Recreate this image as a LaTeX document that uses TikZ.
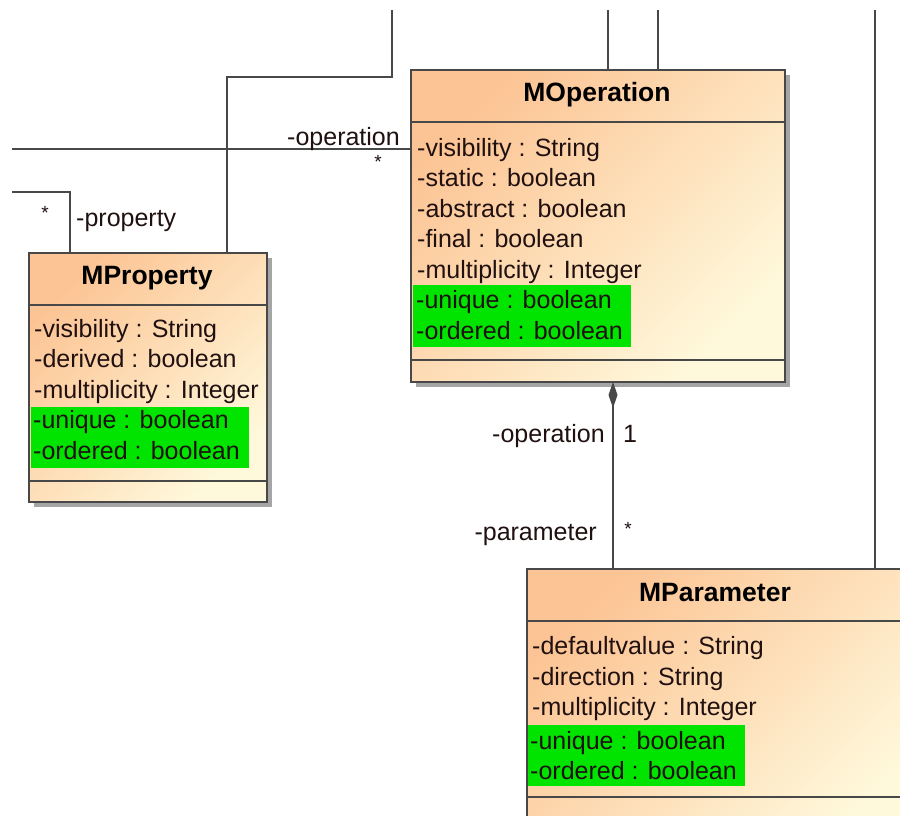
\documentclass[tikz,border=0pt]{standalone}
\usepackage{fontspec}
\setmainfont{Liberation Sans}
\usetikzlibrary{arrows.meta,calc}
\definecolor{lineC}{RGB}{72,72,72}
\definecolor{orangeC}{RGB}{252,196,148}
\definecolor{yellowC}{RGB}{255,249,220}
\definecolor{greenC}{RGB}{0,228,0}
\definecolor{shadowC}{RGB}{165,165,165}
\definecolor{txtC}{RGB}{32,16,16}
\begin{document}
\begin{tikzpicture}[x=1pt,y=-1pt,
  conn/.style={draw=lineC, line width=1.5pt},
  classbox/.style={draw=lineC, line width=1.5pt, rectangle, inner sep=0pt, outer sep=0pt,
    anchor=north west, top color=orangeC, bottom color=yellowC, shading angle=45},
  attr/.style={anchor=base west, inner sep=0pt, text=txtC, font=\fontsize{25}{30}\selectfont},
  lbl/.style={inner sep=0pt, text=txtC, font=\fontsize{25}{30}\selectfont},
  star/.style={inner sep=0pt, text=txtC, font=\fontsize{19}{22}\selectfont},
  ttl/.style={anchor=base, inner sep=0pt, text=black, font=\fontsize{26.5}{30}\selectfont\bfseries},
  sep/.style={draw=lineC, line width=1.5pt},
  hl/.style={fill=greenC},
  shadowbox/.style={fill=shadowC}]
\useasboundingbox (0,0) rectangle (900,816);
\clip (0,0) rectangle (900,816);
\fill[white] (0,0) rectangle (900,816);

% shadows
\fill[shadowbox] (416,75) rectangle (790,387);
\fill[shadowbox] (34,258) rectangle (272,507);

% class boxes
\node[classbox, minimum width=374pt, minimum height=312pt] (op) at (411,70) {};
\node[classbox, minimum width=238pt, minimum height=249pt] (prop) at (29,253) {};
\node[classbox, minimum width=376pt, minimum height=300pt] (par) at (527,569) {};

% highlights
\fill[hl] ($(op.north west)+(2,215)$) rectangle ($(op.north west)+(220,277)$);
\fill[hl] ($(prop.north west)+(2,154)$) rectangle ($(prop.north west)+(220,215)$);
\fill[hl] ($(par.north west)+(1,156)$) rectangle ($(par.north west)+(218,217)$);

% compartment separators
\draw[sep] ($(op.north west)+(0,52)$) -- ($(op.north east)+(0,52)$);
\draw[sep] ($(op.south west)+(0,-22)$) -- ($(op.south east)+(0,-22)$);
\draw[sep] ($(prop.north west)+(0,52)$) -- ($(prop.north east)+(0,52)$);
\draw[sep] ($(prop.south west)+(0,-21)$) -- ($(prop.south east)+(0,-21)$);
\draw[sep] ($(par.north west)+(0,52)$) -- ($(par.north east)+(0,52)$);
\draw[sep] ($(par.north west)+(0,228)$) -- ($(par.north east)+(0,228)$);

% titles
\node[ttl] (opt) at (597,102) {MOperation};
\node[ttl] (propt) at (147,284) {MProperty};
\node[ttl] (part) at (715,601) {MParameter};

% MOperation attributes
\node[attr] (opa1) at (417,156) {-visibility : String};
\node[attr] (opa2) at (417,186.5) {-static : boolean};
\node[attr] (opa3) at (417,217) {-abstract : boolean};
\node[attr] (opa4) at (417,247.5) {-final : boolean};
\node[attr] (opa5) at (417,278) {-multiplicity : Integer};
\node[attr] (opa6) at (416,308.5) {-unique : boolean};
\node[attr] (opa7) at (416,339) {-ordered : boolean};

% MProperty attributes
\node[attr] (pra1) at (34,337) {-visibility : String};
\node[attr] (pra2) at (34,367.5) {-derived : boolean};
\node[attr] (pra3) at (34,398) {-multiplicity : Integer};
\node[attr] (pra4) at (33,428.5) {-unique : boolean};
\node[attr] (pra5) at (33,459) {-ordered : boolean};

% MParameter attributes
\node[attr] (paa1) at (532,654) {-defaultvalue : String};
\node[attr] (paa2) at (532,685) {-direction : String};
\node[attr] (paa3) at (532,715) {-multiplicity : Integer};
\node[attr] (paa4) at (530,749) {-unique : boolean};
\node[attr] (paa5) at (530,779) {-ordered : boolean};

% free ends and bends
\coordinate (t1) at (392,10);
\coordinate (b1) at (227,77);
\coordinate (l1) at (12,149);
\coordinate (l2) at (12,192);
\coordinate (b2) at (70,192);
\coordinate (t2) at (608,10);
\coordinate (t3) at (658,10);
\coordinate (t4) at (875,10);
\coordinate (cx) at (613,0);

% connectors
\draw[conn] (t1) |- (b1) -- (b1 |- prop.north);
\draw[conn] (l1) -- (l1 -| op.west);
\draw[conn] (l2) -- (b2) -- (b2 |- prop.north);
\draw[conn] (t2) -- (t2 |- op.north);
\draw[conn] (t3) -- (t3 |- op.north);
\draw[conn] (t4) -- (t4 |- par.north);
\draw[conn, {Diamond[length=26pt,width=9pt,fill=lineC]}-] (cx |- op.south) -- (cx |- par.north);

% connector labels
\node[lbl, anchor=base east] (lop1) at (400,145) {-operation};
\node[star] (sop1) at (378,162) {*};
\node[lbl, anchor=base west] (lprop) at (76,226) {-property};
\node[star] (sprop) at (45,213) {*};
\node[lbl, anchor=base east] (lop2) at (605,442) {-operation};
\node[lbl, anchor=base west] (mop2) at (623,442) {1};
\node[lbl, anchor=base east] (lpar) at (597,540) {-parameter};
\node[star] (spar) at (628,529) {*};
\end{tikzpicture}
\end{document}
